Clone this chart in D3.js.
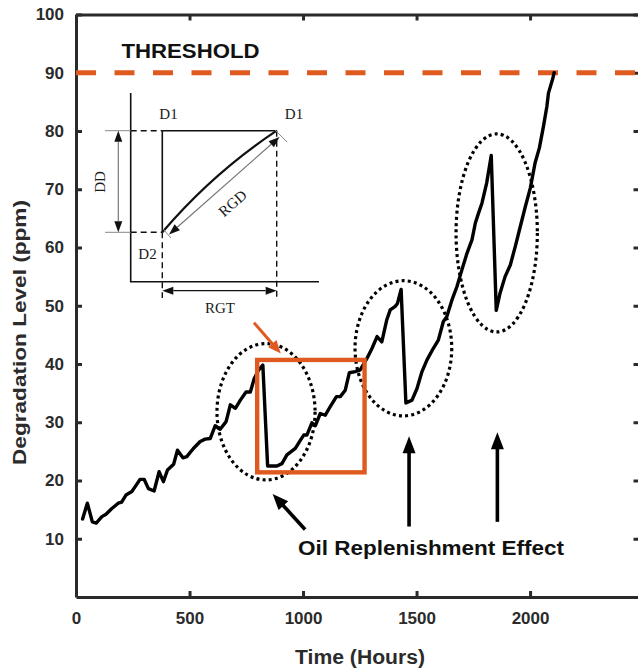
<!DOCTYPE html>
<html>
<head>
<meta charset="utf-8">
<script src="https://cdn.jsdelivr.net/npm/d3@7"></script>
<style>
  html, body { margin: 0; padding: 0; background: #fff; }
  svg { display: block; }
  .tick text { font-family: "Liberation Sans", Arial, sans-serif; font-weight: bold; }
</style>
</head>
<body>
<svg id="chart" width="638" height="671"></svg>
<script>
// Degradation level over operating time
const hours = [29, 50, 72, 89, 114, 132, 158, 186, 201, 220, 246, 260, 282, 300, 319, 344, 366, 385, 403, 430,
  447, 471, 488, 517, 547, 569, 591, 613, 635, 661, 680, 702, 724, 749, 768, 785, 805, 823,
  844, 885, 907, 929, 966, 988, 1003, 1017, 1039, 1054, 1076, 1098, 1120, 1147, 1164, 1186, 1204, 1230, 1252,
  1282, 1304, 1326, 1347, 1369, 1384, 1406, 1416, 1432,
  1453, 1480, 1502, 1524, 1546, 1574, 1596, 1618, 1633, 1656, 1678, 1700, 1722, 1744, 1759, 1773, 1788, 1809, 1829,
  1851, 1868, 1890, 1913, 1935, 1957, 1979, 2001, 2022, 2041, 2059, 2074, 2081, 2100, 2106];
const ppm = [13.4, 16.1, 12.9, 12.7, 13.8, 14.2, 15.2, 16.1, 16.3, 17.5, 18.1, 18.9, 20.2, 20.2, 18.6, 18.2, 21.5, 19.8, 21.8, 22.8,
  25.2, 23.9, 24.1, 25.5, 26.7, 27.1, 27.2, 29.4, 28.8, 30.1, 33.0, 32.4, 33.8, 35.2, 35.2, 37.5, 39.0, 39.8,
  22.5, 22.5, 22.9, 24.4, 25.5, 26.9, 27.8, 27.8, 29.9, 29.4, 31.5, 31.2, 32.7, 34.4, 34.4, 35.5, 38.5, 38.7, 39.0,
  41.0, 42.7, 44.7, 43.8, 47.6, 49.3, 49.9, 50.4, 52.8,
  33.3, 33.8, 35.8, 38.7, 40.7, 42.7, 44.1, 47.3, 48.1, 51.0, 53.3, 56.2, 59.0, 61.3, 64.2, 65.9, 67.6, 71.1, 75.8,
  49.2, 52.2, 55.0, 57.0, 60.2, 63.6, 67.0, 70.2, 74.5, 77.1, 80.8, 84.2, 86.5, 89.0, 90.0];

const xTicks = [0, 500, 1000, 1500, 2000];
const yTicks = [10, 20, 30, 40, 50, 60, 70, 80, 90, 100];
const threshold = 90;

// Replenishment events: ellipse centre (hours, ppm) and half-extents
const eventCx = [837, 1442, 1853];
const eventCy = [31.8, 42.7, 62.5];
const eventRx = [216, 213, 179];
const eventRy = [11.7, 11.6, 17.0];

// Highlighted window (hours / ppm)
const boxHours = [798, 1271];
const boxPpm = [21.4, 40.7];

const orange = "#DF5A1F";
const axisColor = "#2a2a2a";
const sans = "Liberation Sans, Arial, sans-serif";

const svg = d3.select("#chart");
const x = d3.scaleLinear().domain([0, 2482]).range([76, 639.5]);
const y = d3.scaleLinear().domain([0, 100]).range([597, 14.5]);

// ---- Axes (ticks point inward) ----
function styleAxis(g) {
  g.selectAll("path.domain").attr("stroke", axisColor).attr("stroke-width", 3);
  g.selectAll(".tick line").attr("stroke", axisColor).attr("stroke-width", 3);
  g.selectAll(".tick text").attr("fill", "#2b2b2b").style("font-size", "17px");
}
svg.append("g").attr("transform", `translate(0,${y(0)})`)
  .call(d3.axisBottom(x).tickValues(xTicks).tickSizeInner(-6).tickSizeOuter(0).tickPadding(15).tickFormat(d3.format("d")))
  .call(styleAxis);
svg.append("g").attr("transform", `translate(0,${y(100)})`)
  .call(d3.axisTop(x).tickValues(xTicks).tickSizeInner(-6).tickSizeOuter(0).tickFormat(""))
  .call(styleAxis);
svg.append("g").attr("transform", `translate(${x(0)},0)`)
  .call(d3.axisLeft(y).tickValues(yTicks).tickSizeInner(-6).tickSizeOuter(0).tickPadding(12))
  .call(styleAxis);
svg.append("g").attr("transform", `translate(${x(2482)},0)`)
  .call(d3.axisRight(y).tickValues(yTicks).tickSizeInner(-6).tickSizeOuter(0).tickFormat(""))
  .call(styleAxis);

// Axis titles
svg.append("text")
  .attr("x", 295).attr("y", 664)
  .attr("font-family", sans)
  .attr("font-weight", "bold").attr("font-size", 19.5).attr("fill", "#2b2b2b")
  .attr("textLength", 130).attr("lengthAdjust", "spacingAndGlyphs")
  .text("Time (Hours)");
svg.append("text")
  .attr("transform", "translate(26,465) rotate(-90)")
  .attr("font-family", sans)
  .attr("font-weight", "bold").attr("font-size", 18.5).attr("fill", "#2b2b2b")
  .attr("textLength", 265).attr("lengthAdjust", "spacingAndGlyphs")
  .text("Degradation Level (ppm)");

// ---- Threshold ----
svg.append("line")
  .attr("x1", x(0)).attr("x2", 640)
  .attr("y1", y(threshold)).attr("y2", y(threshold))
  .attr("stroke", orange).attr("stroke-width", 5)
  .attr("stroke-dasharray", "20,18.5");
svg.append("text")
  .attr("x", 121.5).attr("y", 57.5)
  .attr("font-family", sans)
  .attr("font-weight", "bold").attr("font-size", 20.5).attr("fill", "#111")
  .attr("textLength", 138).attr("lengthAdjust", "spacingAndGlyphs")
  .text("THRESHOLD");

// ---- Degradation curve ----
const line = d3.line().x((d, i) => x(hours[i])).y((d, i) => y(ppm[i]));
svg.append("path")
  .datum(ppm)
  .attr("d", line)
  .attr("fill", "none")
  .attr("stroke", "#000")
  .attr("stroke-width", 3.4)
  .attr("stroke-linejoin", "round")
  .attr("stroke-linecap", "round");

// ---- Replenishment ellipses ----
svg.selectAll("ellipse.event")
  .data(eventCx)
  .join("ellipse")
  .attr("class", "event")
  .attr("cx", d => x(d))
  .attr("cy", (d, i) => y(eventCy[i]))
  .attr("rx", (d, i) => x(d + eventRx[i]) - x(d))
  .attr("ry", (d, i) => y(eventCy[i] - eventRy[i]) - y(eventCy[i]))
  .attr("fill", "none")
  .attr("stroke", "#000")
  .attr("stroke-width", 3.2)
  .attr("stroke-dasharray", "3,3.2");

// ---- Highlight box ----
svg.append("rect")
  .attr("x", x(boxHours[0])).attr("y", y(boxPpm[1]))
  .attr("width", x(boxHours[1]) - x(boxHours[0]))
  .attr("height", y(boxPpm[0]) - y(boxPpm[1]))
  .attr("fill", "none")
  .attr("stroke", orange)
  .attr("stroke-width", 4.4);

// ---- Arrows ----
function arrow(g, x1, y1, x2, y2, color, width, headLen, headW) {
  const dx = x2 - x1, dy = y2 - y1;
  const len = Math.hypot(dx, dy);
  const ux = dx / len, uy = dy / len;
  const bx = x2 - ux * headLen, by = y2 - uy * headLen;
  g.append("line")
    .attr("x1", x1).attr("y1", y1).attr("x2", bx + ux * 1).attr("y2", by + uy * 1)
    .attr("stroke", color).attr("stroke-width", width);
  g.append("path")
    .attr("d", `M${x2},${y2}L${bx - uy * headW / 2},${by + ux * headW / 2}L${bx + uy * headW / 2},${by - ux * headW / 2}Z`)
    .attr("fill", color);
}
// orange pointer to the highlighted window
arrow(svg, x(784), y(47.1), x(902), y(41.8), orange, 3, 13, 11);
// black pointers to each replenishment
arrow(svg, x(1009), y(11.6), x(866), y(17.7), "#000", 3.6, 16, 13);
arrow(svg, x(1467), y(12.1), x(1467), y(27.6), "#000", 3.6, 17, 13);
arrow(svg, x(1856), y(12.9), x(1856), y(28.3), "#000", 3.6, 17, 13);

svg.append("text")
  .attr("x", 298).attr("y", 555)
  .attr("font-family", sans)
  .attr("font-weight", "bold").attr("font-size", 20).attr("fill", "#111")
  .attr("textLength", 266).attr("lengthAdjust", "spacingAndGlyphs")
  .text("Oil Replenishment Effect");

// ---- Inset: definitions of DD, RGT and RGD ----
const inset = svg.append("g");
const serif = "Liberation Serif, Times New Roman, serif";
const ax0 = 130.7, ay1 = 281.7, axTop = 93, axRight = 319;
const d2x = 162.3, d2y = 232.3, d1x = 276.7, d1y = 130.7;

inset.append("path")
  .attr("d", `M${ax0},${axTop}V${ay1}H${axRight}`)
  .attr("fill", "none").attr("stroke", "#111").attr("stroke-width", 1.6);

// dashed guides
const dash = "6,4";
inset.append("line").attr("x1", ax0).attr("x2", d2x).attr("y1", d1y).attr("y2", d1y)
  .attr("stroke", "#111").attr("stroke-width", 1.4).attr("stroke-dasharray", dash);
inset.append("line").attr("x1", ax0).attr("x2", d2x).attr("y1", d2y).attr("y2", d2y)
  .attr("stroke", "#111").attr("stroke-width", 1.4).attr("stroke-dasharray", dash);
inset.append("line").attr("x1", d2x).attr("x2", d2x).attr("y1", d2y).attr("y2", 298)
  .attr("stroke", "#111").attr("stroke-width", 1.4).attr("stroke-dasharray", dash);
inset.append("line").attr("x1", d1x).attr("x2", d1x).attr("y1", d1y).attr("y2", 298)
  .attr("stroke", "#111").attr("stroke-width", 1.4).attr("stroke-dasharray", dash);

// extension lines for DD
inset.append("line").attr("x1", 105).attr("x2", ax0).attr("y1", d1y).attr("y2", d1y)
  .attr("stroke", "#888").attr("stroke-width", 1);
inset.append("line").attr("x1", 105).attr("x2", ax0).attr("y1", d2y).attr("y2", d2y)
  .attr("stroke", "#888").attr("stroke-width", 1);

// solid drop and level lines
inset.append("line").attr("x1", d2x).attr("x2", d2x).attr("y1", d1y).attr("y2", d2y)
  .attr("stroke", "#111").attr("stroke-width", 1.6);
inset.append("line").attr("x1", d2x).attr("x2", d1x).attr("y1", d1y).attr("y2", d1y)
  .attr("stroke", "#111").attr("stroke-width", 1.6);

// regrowth curve
inset.append("path")
  .attr("d", `M${d2x},${d2y}Q${213},${173} ${d1x},${d1y}`)
  .attr("fill", "none").attr("stroke", "#111").attr("stroke-width", 2.2);

// double arrows
function doubleArrow(x1, y1, x2, y2, color) {
  const dx = x2 - x1, dy = y2 - y1, len = Math.hypot(dx, dy);
  const ux = dx / len, uy = dy / len, hl = 11, hw = 8;
  inset.append("line").attr("x1", x1 + ux * hl).attr("y1", y1 + uy * hl)
    .attr("x2", x2 - ux * hl).attr("y2", y2 - uy * hl)
    .attr("stroke", color).attr("stroke-width", 1.2);
  [[x1, y1, ux, uy], [x2, y2, -ux, -uy]].forEach(([px, py, vx, vy]) => {
    const bx = px + vx * hl, by = py + vy * hl;
    inset.append("path")
      .attr("d", `M${px},${py}L${bx - vy * hw / 2},${by + vx * hw / 2}L${bx + vy * hw / 2},${by - vx * hw / 2}Z`)
      .attr("fill", "#111");
  });
}
doubleArrow(118.3, d1y, 118.3, d2y, "#777");
doubleArrow(d2x, 290.7, d1x, 290.7, "#111");
doubleArrow(169, 234.5, 279.5, 137, "#777");
// RGD extension ticks
inset.append("line").attr("x1", 275).attr("y1", 130).attr("x2", 287).attr("y2", 142)
  .attr("stroke", "#888").attr("stroke-width", 1);
inset.append("line").attr("x1", 163).attr("y1", 229).attr("x2", 171).attr("y2", 238)
  .attr("stroke", "#888").attr("stroke-width", 1);

// inset labels
const lab = (t, lx, ly, rot) => inset.append("text")
  .attr("transform", `translate(${lx},${ly})` + (rot ? ` rotate(${rot})` : ""))
  .attr("text-anchor", "middle")
  .attr("font-family", serif).attr("font-size", 15).attr("fill", "#1a1a1a")
  .text(t);
lab("D1", 168.5, 118.5);
lab("D1", 294, 118.5);
lab("D2", 147.5, 258.5);
lab("RGT", 220, 313);
lab("DD", 105, 182, -90);
lab("RGD", 236, 207, -41);
</script>
</body>
</html>
